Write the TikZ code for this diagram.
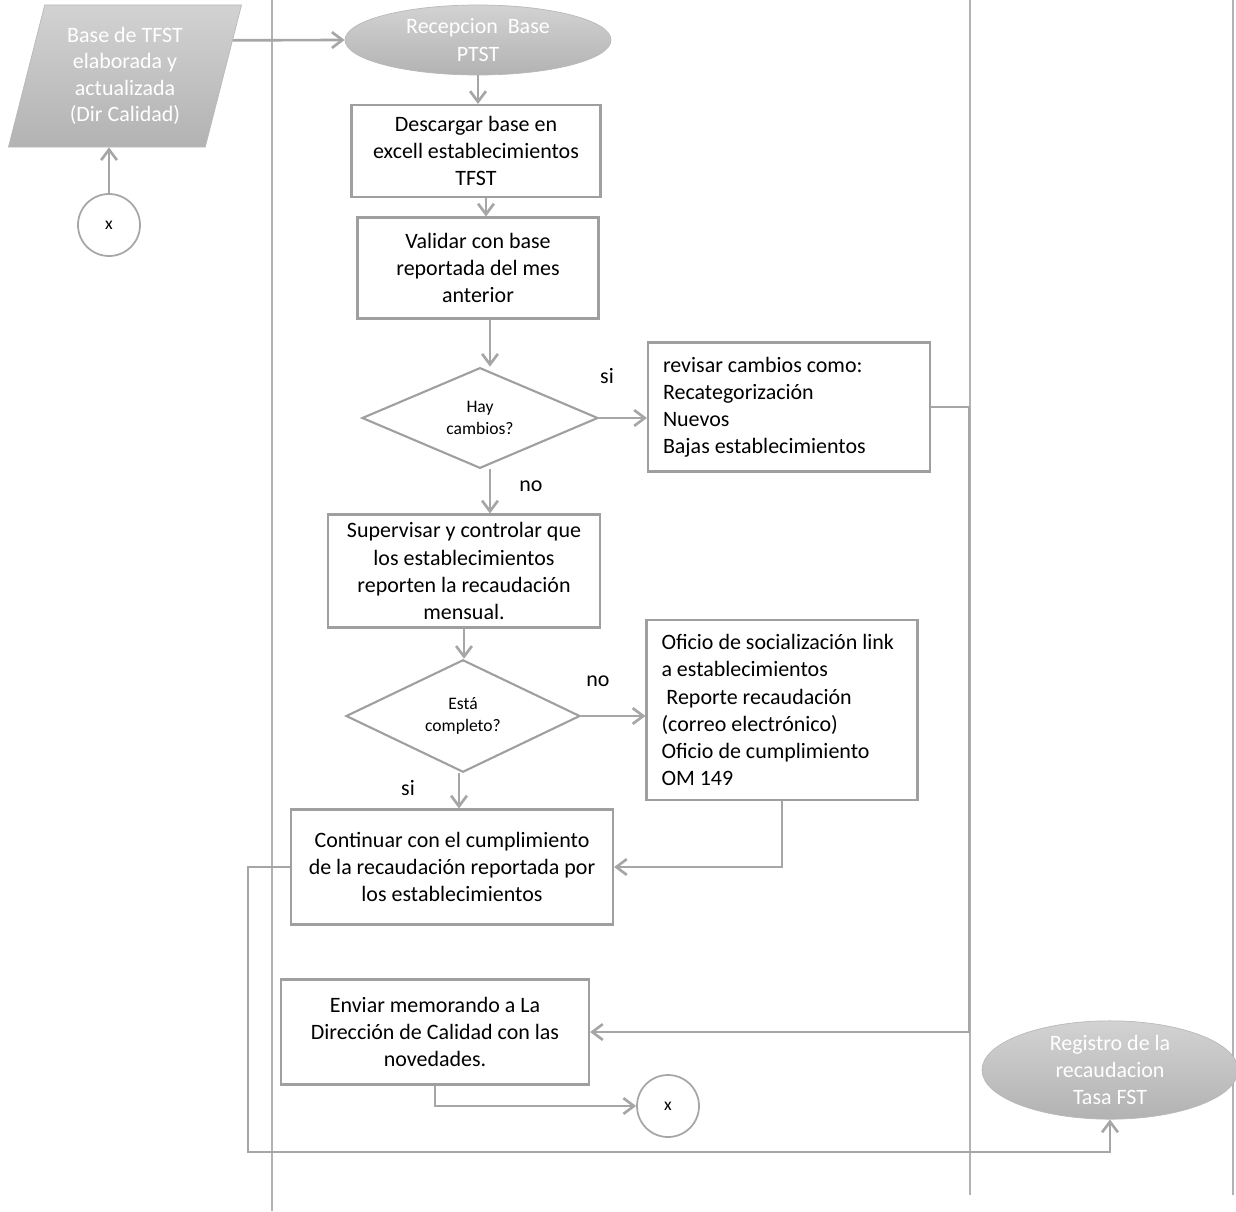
\documentclass[tikz,border=0pt]{standalone}
\usepackage{fontspec}
\setmainfont{Carlito}
\usepackage{tikz}
\usepackage{xcolor}
\usetikzlibrary{shapes.geometric,arrows.meta,calc}
\colorlet{LineGray}{gray!75}
\colorlet{LaneGray}{gray!60}
\tikzstyle{processBlock}=[draw=LineGray,line width=1.2pt,fill=white,align=center,inner sep=2pt,font=\fontsize{12.5}{15.4}\selectfont]
\tikzstyle{listBlock}=[processBlock,align=flush left,inner xsep=0.3cm]
\tikzstyle{decisionNode}=[draw=LineGray,line width=1.2pt,diamond,inner sep=0pt,align=center,font=\fontsize{10}{12.5}\selectfont]
\tikzstyle{terminalNode}=[draw=gray!55,ellipse,top color=gray!35,bottom color=gray!60,text=white,align=center,inner sep=0pt,font=\fontsize{12.5}{15.4}\selectfont]
\tikzstyle{dataBlock}=[draw=gray!55,trapezium,trapezium left angle=75,trapezium right angle=105,trapezium stretches=true,top color=gray!35,bottom color=gray!60,text=white,align=center,inner sep=0pt,font=\fontsize{12.5}{15}\selectfont]
\tikzstyle{connectorNode}=[draw=gray!70,circle,line width=1pt,minimum size=1.24cm,inner sep=0pt,font=\fontsize{10}{12}\selectfont]
\tikzstyle{invisNode}=[inner sep=0pt,font=\fontsize{12.5}{15}\selectfont]
\tikzstyle{flowTransition}=[-{Straight Barb[length=6pt,width=9pt]},draw=gray!70,line width=1.5pt]
\tikzstyle{laneLine}=[draw=LaneGray,line width=0.6pt]

\begin{document}
\begin{tikzpicture}
    \useasboundingbox (0,0) rectangle (24.72,-24.22);

    % Lanes
    \draw[laneLine] (5.44,0) -- (5.44,-24.22);
    \draw[laneLine] (19.4,0) -- (19.4,-23.9);
    \draw[laneLine] (24.66,0) -- (24.66,-23.9);

    % Incoming base
    \node[dataBlock, minimum width=4.7cm, minimum height=2.84cm] (base) at (2.5,-1.52) {Base de TFST\\elaborada y\\actualizada\\(Dir Calidad)};
    \node[connectorNode] (x1) at (2.18,-4.5) {x};
    \draw[flowTransition] (x1.north) -- (x1.north |- base.south);

    \node[terminalNode, minimum width=5.32cm, minimum height=1.4cm] (recv) at (9.56,-0.8) {Recepcion\ \ Base\\PTST};
    \draw[flowTransition] ($(base.top right corner)!0.25!(base.bottom right corner)$) -- (recv.west);

    % Main flow
    \node[processBlock, minimum width=4.98cm, minimum height=1.84cm] (box1) at (9.52,-3.02) {Descargar base en\\excell establecimientos\\TFST};
    \draw[flowTransition] (recv.south) -- (recv.south |- box1.north);
    \node[processBlock, minimum width=4.82cm, minimum height=2.02cm] (box2) at (9.56,-5.36) {Validar con base\\reportada del mes\\anterior};
    \draw[flowTransition] ([xshift=0.2cm]box1.south) -- ([xshift=0.2cm]box1.south |- box2.north);

    \node[decisionNode, minimum width=4.72cm, minimum height=2cm] (dia1) at (9.6,-8.36) {Hay\\cambios?};
    \draw[flowTransition] ([xshift=0.24cm]box2.south) -- ([xshift=0.24cm]box2.south |- dia1.north);

    \node[listBlock, text width=5.04cm, minimum height=2.58cm] (box3) at (15.78,-8.14) {revisar cambios como:\\Recategorización\\Nuevos\\Bajas establecimientos};
    \draw[flowTransition] (dia1.east) -- (dia1.east -| box3.west);
    \node[invisNode] (si1) at (12.14,-7.52) {si};

    \node[processBlock, minimum width=5.44cm, minimum height=2.26cm] (box4) at (9.28,-11.42) {Supervisar y controlar que\\los establecimientos\\reporten la recaudación\\mensual.};
    \draw[flowTransition] ([xshift=0.2cm]dia1.south) -- ([xshift=0.2cm]dia1.south |- box4.north);
    \node[invisNode] (no1) at (10.62,-9.72) {no};

    \node[decisionNode, minimum width=4.68cm, minimum height=1.98cm] (dia2) at (9.26,-14.32) {Está\\completo?};
    \draw[flowTransition] (box4.south) -- (box4.south |- dia2.north);

    \node[listBlock, text width=4.82cm, minimum height=3.6cm] (box5) at (15.64,-14.2) {Oficio de socialización link\\a establecimientos\\\ Reporte recaudación\\(correo electrónico)\\Oficio de cumplimiento\\OM 149};
    \draw[flowTransition] (dia2.east) -- (dia2.east -| box5.west);
    \node[invisNode] (no2) at (11.96,-13.62) {no};

    \node[processBlock, minimum width=6.44cm, minimum height=2.3cm] (box6) at (9.04,-17.34) {Continuar con el cumplimiento\\de la recaudación reportada por\\los establecimientos};
    \draw[flowTransition] ([xshift=-0.08cm]dia2.south) -- ([xshift=-0.08cm]dia2.south |- box6.north);
    \node[invisNode] (si2) at (8.16,-15.76) {si};
    \draw[flowTransition] (box5.south) |- (box6.east);

    \node[processBlock, minimum width=6.16cm, minimum height=2.1cm] (box7) at (8.7,-20.64) {Enviar memorando a La\\Dirección de Calidad con las\\novedades.};
    \draw[flowTransition] (box3.east) -- ++(0.76,0) |- (box7.east);

    \node[connectorNode] (x2) at (13.36,-22.12) {x};
    \draw[flowTransition] (box7.south) |- (x2.west);

    % Outgoing
    \node[terminalNode, minimum width=5.12cm, minimum height=1.48cm] (reg) at (22.2,-21.4) {Registro de la\\recaudacion\\Tasa FST};
    \coordinate (loopCorner) at (4.96,-23.04);
    \draw[flowTransition] (box6.west) -| (loopCorner) -| (reg.south);

\end{tikzpicture}
\end{document}
